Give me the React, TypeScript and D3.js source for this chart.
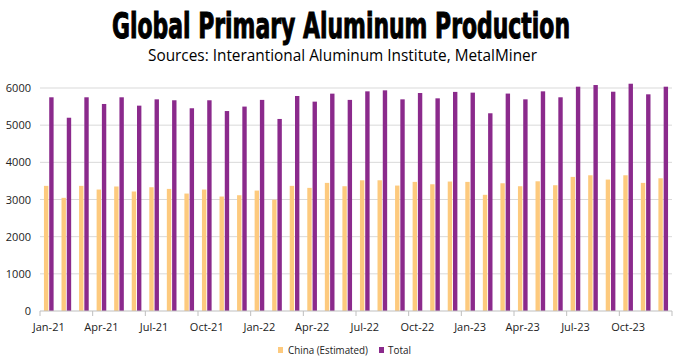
import React from "react";
import * as d3 from "d3";

const months: string[] = [
  "Jan-21","Feb-21","Mar-21","Apr-21","May-21","Jun-21","Jul-21","Aug-21","Sep-21","Oct-21","Nov-21","Dec-21",
  "Jan-22","Feb-22","Mar-22","Apr-22","May-22","Jun-22","Jul-22","Aug-22","Sep-22","Oct-22","Nov-22","Dec-22",
  "Jan-23","Feb-23","Mar-23","Apr-23","May-23","Jun-23","Jul-23","Aug-23","Sep-23","Oct-23","Nov-23","Dec-23",
];

const china: number[] = [
  3367, 3045, 3367, 3268, 3350, 3215, 3330, 3285, 3160, 3268, 3080, 3115,
  3240, 2995, 3367, 3313, 3447, 3357, 3517, 3517, 3375, 3474, 3410, 3483,
  3474, 3126, 3437, 3357, 3490, 3384, 3608, 3652, 3536, 3652, 3447, 3571,
];

const total: number[] = [
  5750, 5200, 5750, 5570, 5750, 5525, 5695, 5670, 5455, 5670, 5380, 5500,
  5680, 5167, 5785, 5633, 5848, 5680, 5910, 5937, 5695, 5865, 5722, 5895,
  5875, 5320, 5850, 5695, 5910, 5750, 6035, 6080, 5900, 6115, 5830, 6035,
];

const yTicks: number[] = [0, 1000, 2000, 3000, 4000, 5000, 6000];

const seriesNames: string[] = ["China (Estimated)", "Total"];
const colors: string[] = ["#FDCA7E", "#8B2A8C"];

const W = 686;
const H = 361;
const left = 40;
const right = 672;
const top = 88;
const bottom = 311;

export default function App() {
  const x = d3.scaleBand<string>().domain(months).range([left, right]).paddingInner(0).paddingOuter(0);
  const y = d3.scaleLinear().domain([0, 6000]).range([bottom, top]);
  const bw = x.bandwidth();
  const barW = bw * 0.25;
  const gap = bw * 0.05;
  const off0 = (bw - 2 * barW - gap) / 2;
  const font = "'Open Sans', 'Liberation Sans', sans-serif";

  return (
    <svg width={W} height={H} style={{ position: "absolute", left: 0, top: 0, background: "#fff" }}>
      <g transform="translate(112,38) scale(1,1.25)">
        <text x={0} y={0} fontFamily="'DejaVu Sans Condensed', 'Liberation Sans Narrow', sans-serif"
          fontWeight="bold" fontSize={28} textLength={458} lengthAdjust="spacingAndGlyphs" fill="#000"
          stroke="#000" strokeWidth={0.8}>
          Global Primary Aluminum Production
        </text>
      </g>
      <text x={148} y={61} fontFamily={font} fontSize={16} textLength={389}
        lengthAdjust="spacingAndGlyphs" fill="#000">
        Sources: Interantional Aluminum Institute, MetalMiner
      </text>

      {yTicks.map((t) => (
        <g key={t}>
          {t > 0 && <line x1={left} x2={right} y1={y(t)} y2={y(t)} stroke="#d9d9d9" strokeWidth={1} />}
          <text x={31} y={y(t) + 4} textAnchor="end" fontFamily={font} fontSize={11} fill="#222">{t}</text>
        </g>
      ))}

      {months.map((m, i) => (
        <g key={m}>
          <rect x={(x(m) as number) + off0} y={y(china[i])} width={barW} height={bottom - y(china[i])} fill={colors[0]} />
          <rect x={(x(m) as number) + off0 + barW + gap} y={y(total[i])} width={barW} height={bottom - y(total[i])} fill={colors[1]} />
        </g>
      ))}

      <line x1={left} x2={right} y1={bottom} y2={bottom} stroke="#bfbfbf" strokeWidth={1} />
      {months.map((m, i) =>
        i % 3 === 0 ? (
          <g key={"t" + m}>
            <line x1={x(m)} x2={x(m)} y1={bottom} y2={bottom + 5} stroke="#bfbfbf" />
            <text x={(x(m) as number) + bw / 2} y={331} textAnchor="middle" fontFamily={font} fontSize={11} fill="#222">{m}</text>
          </g>
        ) : null
      )}
      <line x1={right} x2={right} y1={bottom} y2={bottom + 5} stroke="#bfbfbf" />

      <rect x={278} y={347} width={5} height={6} fill={colors[0]} />
      <text x={288} y={354} fontFamily={font} fontSize={10} textLength={80} lengthAdjust="spacingAndGlyphs" fill="#222">{seriesNames[0]}</text>
      <rect x={379} y={347} width={5} height={6} fill={colors[1]} />
      <text x={388} y={354} fontFamily={font} fontSize={10} textLength={23} lengthAdjust="spacingAndGlyphs" fill="#222">{seriesNames[1]}</text>
    </svg>
  );
}
